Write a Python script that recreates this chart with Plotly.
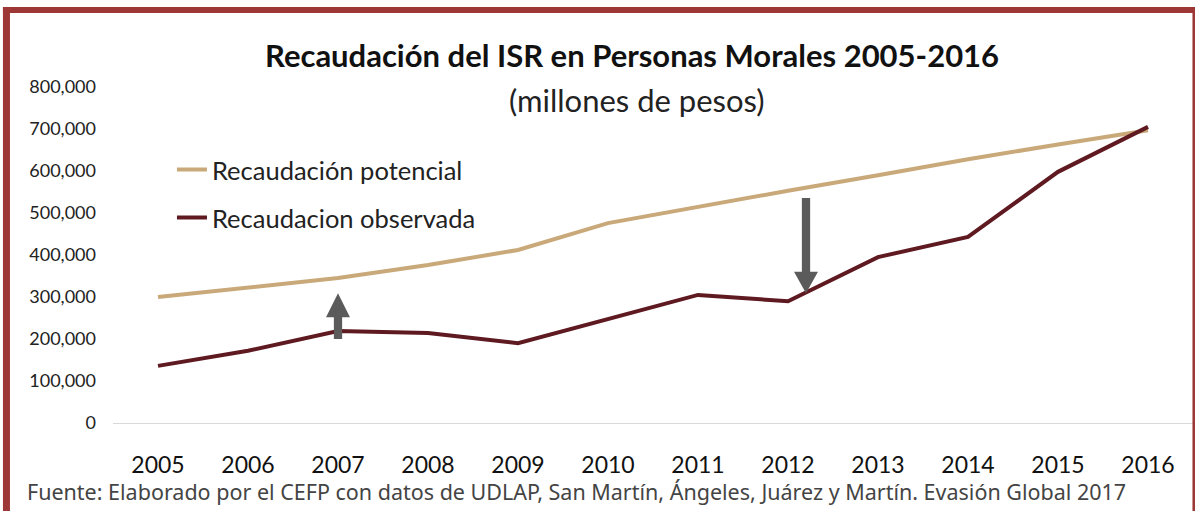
import plotly.graph_objects as go

# Annual corporate income-tax (ISR) collection, millions of pesos
years = [2005, 2006, 2007, 2008, 2009, 2010, 2011, 2012, 2013, 2014, 2015, 2016]
potencial = [300000, 322000, 345000, 376000, 412000, 476000, 515000, 553000, 590000, 628000, 663000, 697000]
observada = [136000, 172000, 219000, 214000, 190000, 248000, 305000, 290000, 395000, 443000, 598000, 705000]
y_ticks = [0, 100000, 200000, 300000, 400000, 500000, 600000, 700000, 800000]
y_ticktext = ["0", "100,000", "200,000", "300,000", "400,000", "500,000", "600,000", "700,000", "800,000"]

C_POT = "#C9A97A"
C_OBS = "#5E1A20"
C_ARROW = "#5B5B5B"
C_FRAME = "#9D3836"
FONT = "Lato"

fig = go.Figure()
fig.add_trace(go.Scatter(x=years, y=potencial, mode="lines", name="Recaudación potencial",
                         line=dict(color=C_POT, width=4), legend="legend"))
fig.add_trace(go.Scatter(x=years, y=observada, mode="lines", name="Recaudacion observada",
                         line=dict(color=C_OBS, width=4), legend="legend2"))

# block arrows marking the gap between the two series
def block_arrow(xc, y_tail, y_base, y_tip, half_head=0.133, half_shaft=0.046):
    return ("M {a},{t} L {b},{t} L {b},{bs} L {c},{bs} L {x},{tp} L {d},{bs} L {a},{bs} Z"
            .format(a=xc - half_shaft, b=xc + half_shaft, c=xc + half_head, d=xc - half_head,
                    x=xc, t=y_tail, bs=y_base, tp=y_tip))

shapes = [
    dict(type="path", xref="x", yref="y", path=block_arrow(2007, 200000, 252000, 309000),
         fillcolor=C_ARROW, line=dict(width=0)),
    dict(type="path", xref="x", yref="y", path=block_arrow(2012.2, 536000, 360000, 309000),
         fillcolor=C_ARROW, line=dict(width=0)),
    # outer frame
    dict(type="rect", xref="paper", yref="paper", x0=-0.1019, x1=1.0019, y0=1.220, y1=1.238,
         fillcolor=C_FRAME, line=dict(width=0), layer="above"),
    dict(type="rect", xref="paper", yref="paper", x0=-0.1019, x1=-0.0954, y0=-0.27, y1=1.238,
         fillcolor=C_FRAME, line=dict(width=0), layer="above"),
    dict(type="rect", xref="paper", yref="paper", x0=0.9995, x1=1.0025, y0=-0.27, y1=1.238,
         fillcolor=C_FRAME, line=dict(width=0), layer="above"),
]

annotations = [
    dict(text="<b>Recaudación del ISR en Personas Morales 2005-2016</b>", xref="paper", yref="paper",
         x=0.4806, y=1.094, showarrow=False, xanchor="center", yanchor="middle",
         font=dict(family=FONT, size=31, color="#111111")),
    dict(text="(millones de pesos)", xref="paper", yref="paper",
         x=0.485, y=0.961, showarrow=False, xanchor="center", yanchor="middle",
         font=dict(family=FONT, size=31, color="#222222")),
    dict(text="Fuente: Elaborado por el CEFP con datos de UDLAP, San Martín, Ángeles, Juárez y Martín. Evasión Global 2017",
         xref="paper", yref="paper", x=-0.0815, y=-0.205, showarrow=False, xanchor="left", yanchor="middle",
         font=dict(family="Noto Sans", size=21.5, color="#444444")),
]

fig.update_layout(
    width=1195, height=511,
    margin=dict(l=113, r=2, t=87, b=88),
    paper_bgcolor="white", plot_bgcolor="white",
    showlegend=True,
    legend=dict(x=0.0546, y=0.753, xanchor="left", yanchor="middle", bgcolor="rgba(0,0,0,0)",
                font=dict(family=FONT, size=25.5, color="#222222")),
    legend2=dict(x=0.0546, y=0.610, xanchor="left", yanchor="middle", bgcolor="rgba(0,0,0,0)",
                 font=dict(family=FONT, size=25.5, color="#222222")),
    xaxis=dict(range=[2004.5, 2016.5], tickvals=years, ticktext=[str(y) for y in years],
               showgrid=False, zeroline=False, showline=True, linecolor="#D9D9D9", linewidth=1,
               ticks="", ticklabelstandoff=21, tickfont=dict(family=FONT, size=23, color="#111111")),
    yaxis=dict(range=[0, 800000], tickvals=y_ticks, ticktext=y_ticktext, showgrid=False,
               zeroline=False, showline=False, ticks="", ticklabelstandoff=16,
               tickfont=dict(family=FONT, size=18, color="#222222")),
    shapes=shapes, annotations=annotations,
)

fig.write_html("out.html")
